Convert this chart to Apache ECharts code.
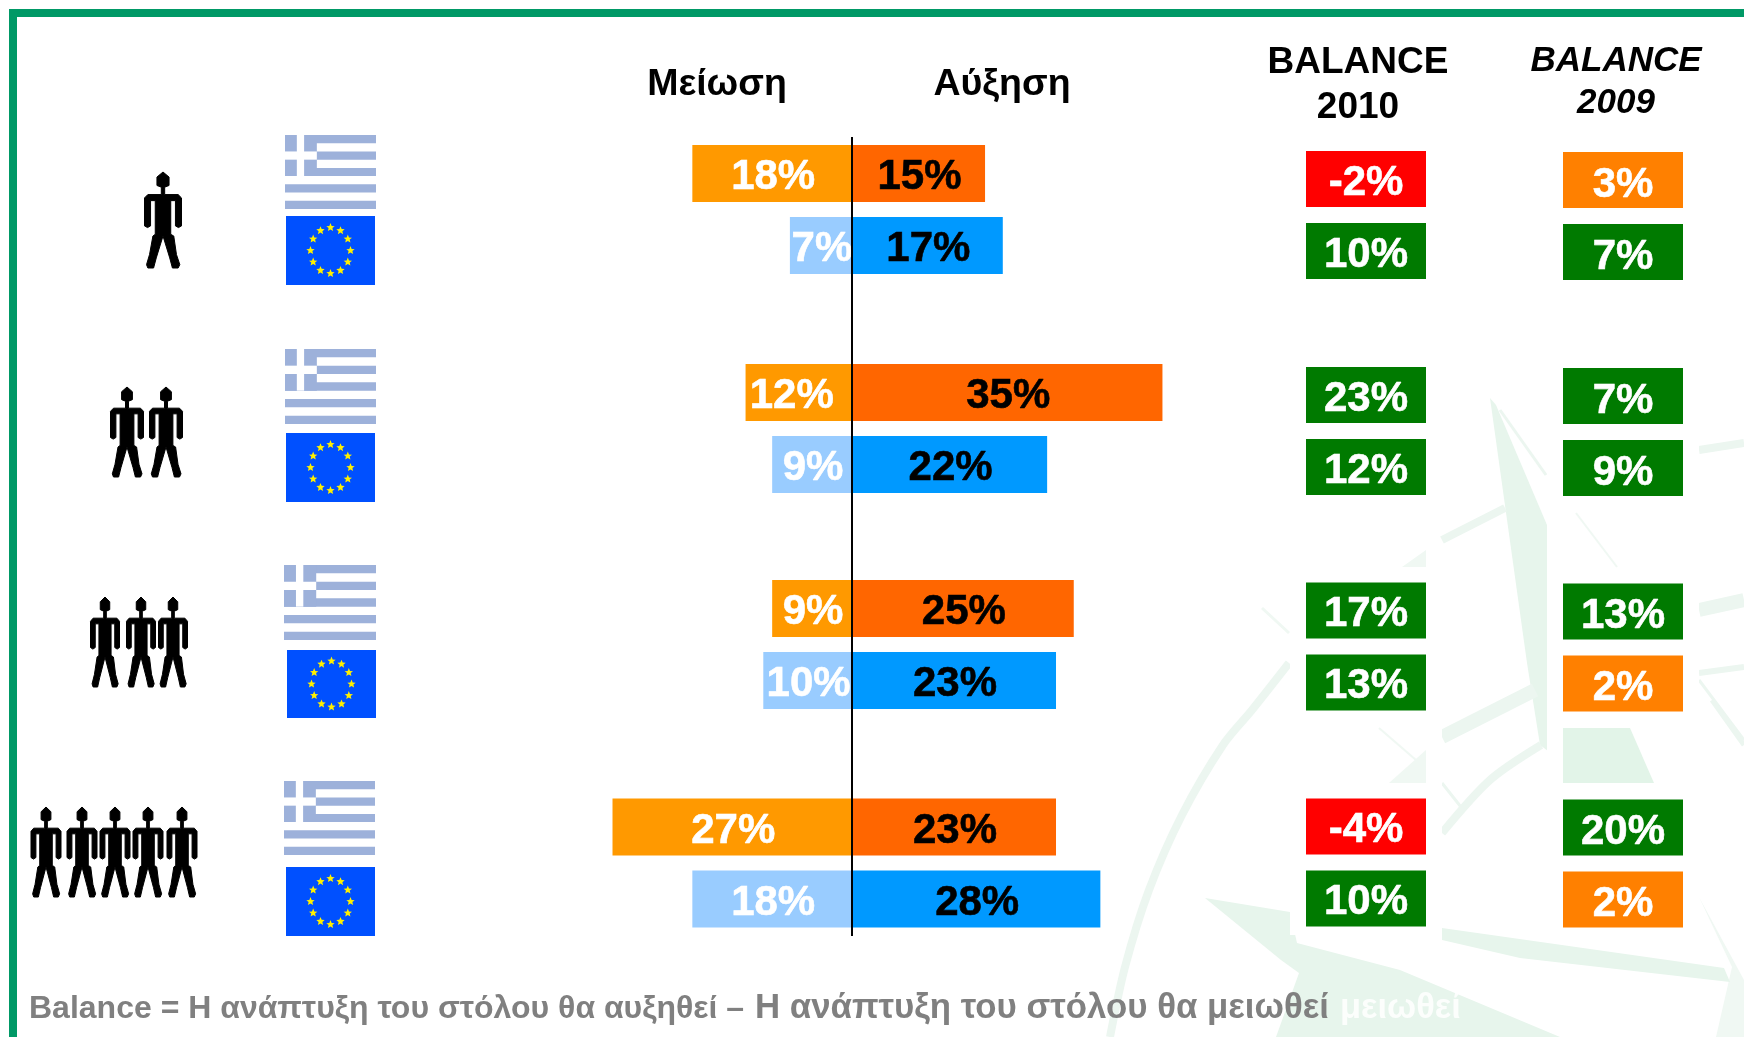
<!DOCTYPE html>
<html>
	<head>
		<meta charset="utf-8">
		<title>Balance 2010</title>
		<script src="https://cdn.jsdelivr.net/npm/echarts@6/dist/echarts.min.js"></script>
		<style>
			html, body { margin: 0; padding: 0; background: #fff; }
			#main { width: 1744px; height: 1037px; }
		</style>
	</head>
	<body>
		<div id="main"></div>
		<script>
			var rows = ['Ελλάδα', 'ΕΕ'];
			var balanceColumns = ['2010', '2009'];
			var groupPeople = [1, 2, 3, 5];

			var decreaseGreece = [18, 12, 9, 27];
			var decreaseEU = [7, 9, 10, 18];
			var increaseGreece = [15, 35, 25, 23];
			var increaseEU = [17, 22, 23, 28];
			var balance2010Greece = [-2, 23, 17, -4];
			var balance2010EU = [10, 12, 13, 10];
			var balance2009Greece = [3, 7, 13, 20];
			var balance2009EU = [7, 9, 2, 2];

			var font = '"Liberation Sans", Arial, sans-serif';
			var pale = '#E7F5EC';
			var paler = '#F0F8F3';
			var paleLine = '#ECF6F0';

			// layout per group (centre of the first row, in px)
			var barCentres = [173.5, 392.5, 608.5, 827];
			var balanceCentres = [179, 395, 610.5, 826.5];
			var flagSpots = [
				{g: [285, 135, 91, 74], e: [286, 216, 89, 69]},
				{g: [285, 349, 91, 75], e: [286, 433, 89, 69]},
				{g: [284, 565, 92, 75], e: [287, 650, 89, 68]},
				{g: [284, 781, 91, 74], e: [286, 867, 89, 69]}
			];
			var peopleSpots = [
				{xs: [163], top: 172, w: 37, h: 96},
				{xs: [127, 166], top: 387, w: 33, h: 90},
				{xs: [105, 141, 173], top: 597, w: 29, h: 90},
				{xs: [46, 82, 115, 148, 182], top: 807, w: 30, h: 90}
			];

			function balanceColor(v) {
				if (v < 0) return '#FF0000';
				if (v < 5) return '#FF8000';
				return '#007A00';
			}

			// ---- decoration: watermark, flags, people ----
			function poly(points, color, z) {
				return {type: 'polygon', silent: true, z: z || 0, shape: {points: points}, style: {fill: color}};
			}
			function stroke(points, width, color, z) {
				return {type: 'polyline', silent: true, z: z || 0, shape: {points: points, smooth: 0.3},
					style: {stroke: color || paleLine, lineWidth: width, fill: null}};
			}
			function box(x, y, w, h, color, z) {
				return {type: 'rect', silent: true, z: z || 0, shape: {x: x, y: y, width: w, height: h}, style: {fill: color}};
			}

			function watermark() {
				return [
					// spike
					poly([[1490, 398], [1496, 405], [1547, 525], [1560, 760], [1540, 745], [1527, 663]], pale),
					stroke([[1500, 410], [1546, 475]], 3),
					stroke([[1442, 540], [1505, 508]], 8),
					stroke([[1442, 737], [1535, 690]], 14),
					stroke([[1442, 833], [1490, 780], [1541, 745]], 8),
					stroke([[1442, 783], [1461, 807]], 3),
					// right side
					stroke([[1699, 450], [1744, 443]], 8),
					stroke([[1699, 610], [1744, 600]], 14),
					stroke([[1699, 673], [1744, 667]], 6),
					stroke([[1699, 680], [1744, 740]], 3),
					stroke([[1712, 700], [1744, 745]], 5),
					poly([[1699, 897], [1744, 980], [1744, 1037], [1716, 1037], [1732, 967]], paler),
					poly([[1442, 928], [1724, 968], [1730, 982], [1520, 958], [1442, 940]], pale),
					// long arc
					stroke([[1289, 663], [1252, 710], [1223, 745], [1182, 815], [1149, 890], [1125, 967], [1110, 1037]], 8),
					stroke([[1262, 608], [1289, 633]], 3, paler),
					// bottom leaf
					poly([[1205, 898], [1290, 912], [1297, 943], [1400, 970], [1560, 1037], [1276, 1037], [1299, 973], [1281, 960]], pale),
					// white panels behind the balance columns
					box(1290, 540, 152, 395, '#fff', 1),
					box(1298, 935, 136, 8, '#fff', 1),
					box(1547, 380, 152, 555, '#fff', 1),
					box(1555, 935, 136, 8, '#fff', 1),
					// what shows through the gaps
					poly([[1402, 567], [1426, 550], [1426, 567]], paler, 2),
					stroke([[1379, 728], [1416, 760]], 2, paler, 2),
					poly([[1389, 783], [1426, 750], [1426, 783]], paler, 2),
					stroke([[1576, 513], [1617, 567]], 2, paler, 2),
					poly([[1563, 728], [1630, 728], [1654, 783], [1563, 783]], '#E2F4E8', 2)
				];
			}

			function greekFlag(s) {
				var x = s[0], y = s[1], w = s[2], h = s[3], list = [], i;
				var blue = '#9DB1DA', sh = h / 9;
				list.push(box(x, y, w, h, '#fff', 3));
				for (i = 0; i < 9; i += 2) {
					list.push(box(x, y + i * sh, w, sh, blue, 3));
				}
				list.push(box(x, y, w * 0.35, sh * 5, blue, 3));
				list.push(box(x, y + sh * 2, w * 0.35, sh, '#fff', 3));
				list.push(box(x + w * 0.13, y, w * 0.08, sh * 5, '#fff', 3));
				return list;
			}

			function starPoints(cx, cy, r) {
				var pts = [];
				for (var i = 0; i < 10; i++) {
					var a = -Math.PI / 2 + i * Math.PI / 5;
					var rad = i % 2 ? r * 0.45 : r;
					pts.push([cx + rad * Math.cos(a), cy + rad * Math.sin(a)]);
				}
				return pts;
			}

			function euFlag(s) {
				var x = s[0], y = s[1], w = s[2], h = s[3];
				var list = [box(x, y, w, h, '#0050FF', 3)];
				for (var i = 0; i < 12; i++) {
					var a = i * Math.PI / 6;
					list.push(poly(starPoints(x + w / 2 + 20 * Math.cos(a), y + h / 2 + 23 * Math.sin(a), 4.4), '#FFF000', 4));
				}
				return list;
			}

			var personShape = [[472, 530], [490, 515], [508, 530], [508, 555], [495, 560], [495, 582], [535, 582], [545, 592], [545, 675], [536, 680], [527, 675], [527, 600], [513, 600], [513, 700], [522, 705], [530, 760], [540, 790], [535, 800], [518, 800], [510, 770], [490, 705], [470, 770], [462, 800], [445, 800], [441, 790], [450, 760], [460, 705], [467, 700], [467, 600], [453, 600], [453, 675], [444, 680], [435, 675], [435, 592], [445, 582], [485, 582], [485, 560], [472, 555]];

			function person(cx, top, w, h) {
				var pts = personShape.map(function (p) {
					return [cx + (p[0] - 490) / 110 * w, top + (p[1] - 515) / 285 * h];
				});
				var el = poly(pts, '#000', 3);
				el.style.stroke = '#000';
				el.style.lineWidth = 1;
				el.style.lineJoin = 'round';
				return el;
			}

			function label(text, x, y, size, extra) {
				return {type: 'text', z: 5, silent: true, x: x, y: y, style: Object.assign({
					text: text, fill: '#000', font: 'bold ' + size + 'px ' + font, textAlign: 'center', textVerticalAlign: 'middle'
				}, extra || {})};
			}

			var elements = [];
			elements = elements.concat(watermark());
			// green frame
			elements.push(box(9, 9, 1735, 8, '#009966', 6));
			elements.push(box(9, 9, 8, 1028, '#009966', 6));
			flagSpots.forEach(function (f) {
				elements = elements.concat(greekFlag(f.g), euFlag(f.e));
			});
			peopleSpots.forEach(function (p) {
				p.xs.forEach(function (cx) {
					elements.push(person(cx, p.top, p.w, p.h));
				});
			});
			elements.push(label('Μείωση', 717, 85, 37.5));
			elements.push(label('Αύξηση', 1002, 85, 37.5));
			elements.push(label('BALANCE', 1358, 63, 37));
			elements.push(label('2010', 1358, 108, 37));
			elements.push(label('BALANCE', 1616, 61, 35, {font: 'italic bold 35px ' + font}));
			elements.push(label('2009', 1616, 103, 35, {font: 'italic bold 35px ' + font}));
			// the two halves of the footnote are not the same size in the original
			elements.push(label('Balance = Η ανάπτυξη του στόλου θα αυξηθεί –', 29, 1009, 32, {fill: '#808080', textAlign: 'left'}));
			elements.push(label('Η ανάπτυξη του στόλου θα μειωθεί', 755, 1008, 34.8, {fill: '#808080', textAlign: 'left'}));
			elements.push(label('μειωθεί', 1340, 1008, 34.5, {fill: '#fff', textAlign: 'left', opacity: 0.85}));
			// zero line
			elements.push({type: 'line', z: 50, silent: true, shape: {x1: 852, y1: 137, x2: 852, y2: 936}, style: {stroke: '#000', lineWidth: 2}});

			// ---- grids and series, four groups of bars, four groups of balance cells ----
			var grids = [], xAxes = [], yAxes = [], series = [];
			var scale = 8.87, halfRange = 40;

			function addAxes(grid, xAxis) {
				grids.push(Object.assign({outerBoundsMode: 'none'}, grid));
				xAxes.push(Object.assign({gridIndex: grids.length - 1, show: false}, xAxis));
				yAxes.push({gridIndex: grids.length - 1, type: 'category', data: rows, inverse: true, show: false});
				return grids.length - 1;
			}

			function barSeries(name, idx, values, colors, textColor, nudge) {
				return {
					name: name,
					type: 'bar',
					xAxisIndex: idx,
					yAxisIndex: idx,
					barWidth: 57,
					barGap: '-100%',
					data: values.map(function (v, i) {
						return {value: v, itemStyle: {color: colors[i]}, label: {offset: [i === 0 ? nudge : 1, 4]}};
					}),
					label: {
						show: true,
						position: 'inside',
						color: textColor,
						textBorderColor: textColor,
						textBorderWidth: 0.6,
						fontFamily: font,
						fontWeight: 'bold',
						fontSize: 42,
						formatter: function (p) { return Math.abs(p.value) + '%'; }
					}
				};
			}

			function balanceSeries(name, idx, col, values, shift) {
				return {
					name: name,
					type: 'scatter',
					xAxisIndex: idx,
					yAxisIndex: idx,
					symbol: 'rect',
					symbolSize: [120, 56],
					symbolOffset: [0, shift],
					data: values.map(function (v, i) {
						return {value: [col, i, v], itemStyle: {color: balanceColor(v), opacity: 1}};
					}),
					z: 4,
					label: {
						show: true,
						position: 'inside',
						offset: [0, 4 + shift],
						color: '#fff',
						textBorderColor: '#fff',
						textBorderWidth: 0.6,
						fontFamily: font,
						fontWeight: 'bold',
						fontSize: 42,
						formatter: function (p) { return p.value[2] + '%'; }
					}
				};
			}

			groupPeople.forEach(function (n, g) {
				var idx = addAxes(
					{left: 852 - halfRange * scale, width: 2 * halfRange * scale, top: barCentres[g] - 36, height: 144},
					{type: 'value', min: -halfRange, max: halfRange}
				);
				// the 12% label sits left of its bar centre in the original
				series.push(barSeries('Μείωση ' + n, idx, [-decreaseGreece[g], -decreaseEU[g]], ['#FF9900', '#99CCFF'], '#fff', g === 1 ? -7 : 1));
				series.push(barSeries('Αύξηση ' + n, idx, [increaseGreece[g], increaseEU[g]], ['#FF6600', '#0099FF'], '#000', 1));

				var bIdx = addAxes(
					{left: 1366 - 128.5, width: 514, top: balanceCentres[g] - 36, height: 144},
					{type: 'category', data: balanceColumns}
				);
				series.push(balanceSeries('Balance 2010 ' + n, bIdx, 0, [balance2010Greece[g], balance2010EU[g]], 0));
				series.push(balanceSeries('Balance 2009 ' + n, bIdx, 1, [balance2009Greece[g], balance2009EU[g]], 1));
			});

			var myChart = echarts.init(document.getElementById('main'), null, {renderer: 'canvas'});
			myChart.setOption({
				animation: false,
				backgroundColor: '#fff',
				grid: grids,
				xAxis: xAxes,
				yAxis: yAxes,
				graphic: {elements: elements},
				series: series
			});
		</script>
	</body>
</html>
